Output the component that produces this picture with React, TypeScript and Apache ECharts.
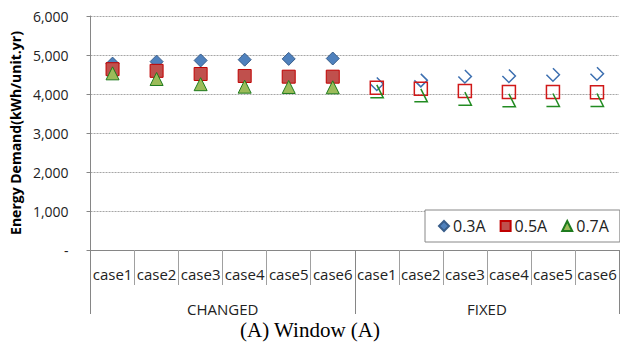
import React, { useEffect, useRef } from 'react';
import * as echarts from 'echarts';

const categories = ['case1', 'case2', 'case3', 'case4', 'case5', 'case6', 'case1', 'case2', 'case3', 'case4', 'case5', 'case6'];
const groups = ['CHANGED', 'FIXED'];

const changed03 = [4780, 4830, 4860, 4880, 4900, 4910];
const changed05 = [4636, 4594, 4513, 4462, 4444, 4444];
const changed07 = [4530, 4385, 4252, 4188, 4180, 4172];
const fixed03 = [4256, 4350, 4449, 4462, 4496, 4521];
const fixed05 = [4158, 4137, 4077, 4051, 4051, 4045];
const fixed07 = [4068, 3966, 3880, 3838, 3846, 3846];

const FONT = '"Open Sans", "Noto Sans", sans-serif';
const EMPTY = ['-', '-', '-', '-', '-', '-'];

const openDiamond = 'path://M6.5,0 L13,6.5 L6.5,13 L0,6.5';
const openTriangle = 'path://M6.5,0 L13,13 L0,13';

export default function App() {
  const ref = useRef<HTMLDivElement>(null);
  useEffect(() => {
    if (!ref.current) return;
    const chart = echarts.init(ref.current, undefined, { renderer: 'svg' });
    chart.setOption({
      animation: false,
      title: {
        text: '(A) Window (A)',
        left: 'center',
        top: 318,
        padding: 0,
        textStyle: { fontFamily: '"Liberation Serif", "Times New Roman", serif', fontSize: 21, fontWeight: 'normal', color: '#000', lineHeight: 24 },
      },
      grid: { left: 89, right: 1, top: 16, bottom: 96 },
      legend: {
        data: [
          { name: '0.3A', icon: 'diamond' },
          { name: '0.5A', icon: 'rect' },
          { name: '0.7A', icon: 'triangle' },
        ],
        left: 425,
        top: 210,
        orient: 'horizontal',
        itemWidth: 10,
        itemHeight: 10,
        itemGap: 14,
        padding: [8, 11, 8, 13],
        borderColor: '#888',
        borderWidth: 1,
        backgroundColor: '#fff',
        textStyle: { fontFamily: FONT, fontSize: 16, color: '#222', padding: [0, 0, 0, -1] },
      },
      xAxis: [
        {
          type: 'category',
          data: categories,
          position: 'bottom',
          boundaryGap: true,
          axisLine: { show: true, lineStyle: { color: '#868686', width: 1 } },
          axisTick: { show: true, length: 35, interval: 0, lineStyle: { color: '#a0a0a0' } },
          axisLabel: { interval: 0, margin: 16, fontFamily: FONT, fontSize: 15, color: '#222' },
        },
        {
          type: 'category',
          data: groups,
          position: 'bottom',
          boundaryGap: true,
          axisLine: { show: false },
          axisTick: { show: true, length: 64, interval: 0, lineStyle: { color: '#868686' } },
          axisLabel: { interval: 0, margin: 51, fontFamily: FONT, fontSize: 15, color: '#222' },
        },
      ],
      yAxis: {
        type: 'value',
        min: 0,
        max: 6000,
        interval: 1000,
        name: 'Energy Demand(kWh/unit.yr)',
        nameLocation: 'middle',
        nameRotate: 90,
        nameGap: 64,
        nameTextStyle: { fontFamily: FONT, fontSize: 14, fontWeight: 'bold', color: '#000' },
        axisLine: { show: true, lineStyle: { color: '#868686' } },
        axisTick: { show: true, length: 4, lineStyle: { color: '#868686' } },
        axisLabel: {
          margin: 22,
          fontFamily: FONT,
          fontSize: 14,
          color: '#222',
          formatter: (v: number) => (v === 0 ? '-' : v.toLocaleString('en-US')),
        },
        splitLine: { show: true, lineStyle: { color: '#a6a6a6', type: [2, 1], width: 1 } },
      },
      series: [
        {
          name: '0.3A', type: 'scatter', symbol: 'diamond', symbolSize: 13,
          data: [...changed03, ...EMPTY],
          itemStyle: { color: '#4f81bd', borderColor: '#385d8a', borderWidth: 1, opacity: 1 },
        },
        {
          name: '0.5A', type: 'scatter', symbol: 'rect', symbolSize: 13,
          data: [...changed05, ...EMPTY],
          itemStyle: { color: '#c0504d', borderColor: '#c00000', borderWidth: 1, opacity: 1 },
        },
        {
          name: '0.7A', type: 'scatter', symbol: 'triangle', symbolSize: 13,
          data: [...changed07, ...EMPTY],
          itemStyle: { color: '#9bbb59', borderColor: '#1e7b1e', borderWidth: 1, opacity: 1 },
        },
        {
          name: 'f0.3A', type: 'scatter', symbol: openDiamond, symbolSize: 13,
          data: [...EMPTY, ...fixed03],
          itemStyle: { color: 'transparent', borderColor: '#3c6fb0', borderWidth: 1.5, opacity: 1 },
        },
        {
          name: 'f0.5A', type: 'scatter', symbol: 'rect', symbolSize: 13,
          data: [...EMPTY, ...fixed05],
          itemStyle: { color: 'transparent', borderColor: '#d01818', borderWidth: 1.5, opacity: 1 },
        },
        {
          name: 'f0.7A', type: 'scatter', symbol: openTriangle, symbolSize: 13,
          data: [...EMPTY, ...fixed07],
          itemStyle: { color: 'transparent', borderColor: '#228b22', borderWidth: 1.5, opacity: 1 },
        },
      ],
    });
    return () => chart.dispose();
  }, []);
  return <div ref={ref} style={{ position: 'absolute', left: 0, top: 0, width: 620, height: 346, background: '#fff' }} />;
}
